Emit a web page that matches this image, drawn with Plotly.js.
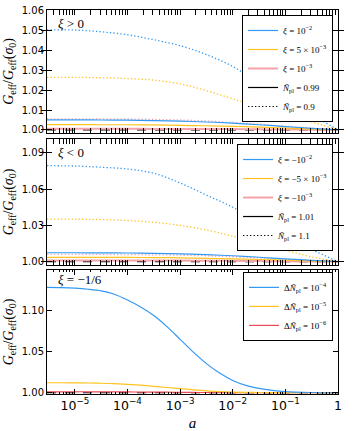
<!DOCTYPE html>
<html>
<head>
<meta charset="utf-8">
<script src="https://cdn.plot.ly/plotly-3.0.1.min.js"></script>
<style>
  body { margin: 0; background: #fff; }
  #plot { width: 353px; height: 431px; }
</style>
</head>
<body>
<div id="plot"></div>
<script>
// scale factor a, half-decade steps from the left edge to a = 1
var aGrid = [2.95e-6, 1e-5, 3.16e-5, 1e-4, 3.16e-4, 1e-3, 3.16e-3, 1e-2, 3.16e-2, 1e-1, 3.16e-1, 1];
// quarter-decade steps for the bottom panel
var aFine = [2.95e-6, 5.62e-6, 1e-5, 1.78e-5, 3.16e-5, 5.62e-5, 1e-4, 1.78e-4, 3.16e-4, 5.62e-4,
             1e-3, 1.78e-3, 3.16e-3, 5.62e-3, 1e-2, 1.78e-2, 3.16e-2, 5.62e-2, 1e-1, 3.16e-1, 1];
var refX = [2.95e-6, 1];
var refY = [1, 1];

// xi > 0 : solid N_pl = 0.99, dotted N_pl = 0.9
var posBlue099   = [1.0051, 1.0051, 1.0050, 1.0049, 1.0047, 1.0044, 1.0040, 1.0034, 1.0026, 1.0017, 1.0008, 1.0000];
var posYellow099 = [1.0027, 1.0027, 1.0026, 1.0026, 1.0025, 1.0023, 1.0021, 1.0018, 1.0014, 1.0009, 1.0004, 1.0000];
var posRed099    = [1.0006, 1.0006, 1.0006, 1.0006, 1.0005, 1.0005, 1.0004, 1.0004, 1.0003, 1.0002, 1.0001, 1.0000];
var posBlue09    = [1.0505, 1.0504, 1.0495, 1.0480, 1.0455, 1.0425, 1.0380, 1.0320, 1.0235, 1.0140, 1.0075, 1.0000];
var posYellow09  = [1.0265, 1.0265, 1.0263, 1.0259, 1.0251, 1.0232, 1.0198, 1.0157, 1.0117, 1.0078, 1.0040, 1.0000];
var posRed09     = [1.0056, 1.0056, 1.0055, 1.0055, 1.0053, 1.0050, 1.0045, 1.0038, 1.0029, 1.0019, 1.0009, 1.0000];

// xi < 0 : solid N_pl = 1.01, dotted N_pl = 1.1
var negBlue101   = [1.0074, 1.0074, 1.0073, 1.0072, 1.0069, 1.0065, 1.0058, 1.0049, 1.0037, 1.0024, 1.0011, 1.0000];
var negYellow101 = [1.0036, 1.0036, 1.0036, 1.0035, 1.0034, 1.0032, 1.0028, 1.0024, 1.0018, 1.0012, 1.0005, 1.0000];
var negRed101    = [1.0010, 1.0010, 1.0010, 1.0010, 1.0009, 1.0009, 1.0008, 1.0007, 1.0005, 1.0003, 1.0001, 1.0000];
var negBlue11    = [1.0793, 1.0790, 1.0780, 1.0765, 1.0730, 1.0650, 1.0550, 1.0450, 1.0320, 1.0200, 1.0100, 1.0000];
var negYellow11  = [1.0352, 1.0351, 1.0348, 1.0340, 1.0325, 1.0300, 1.0262, 1.0210, 1.0150, 1.0095, 1.0040, 1.0000];
var negRed11     = [1.0061, 1.0061, 1.0060, 1.0059, 1.0057, 1.0054, 1.0049, 1.0041, 1.0031, 1.0020, 1.0010, 1.0000];

// xi = -1/6, different Delta N_pl
var confBlue   = [1.1283, 1.1280, 1.1273, 1.1260, 1.1240, 1.1200, 1.1130, 1.1045, 1.0940, 1.0805, 1.0650,
                  1.0495, 1.0355, 1.0240, 1.0150, 1.0090, 1.0053, 1.0028, 1.0013, 1.0003, 1.0000];
var confYellow = [1.0122, 1.0122, 1.0121, 1.0119, 1.0116, 1.0111, 1.0103, 1.0092, 1.0079, 1.0064, 1.0050,
                  1.0036, 1.0024, 1.0015, 1.0009, 1.0005, 1.0003, 1.0001, 1.0001, 1.0000, 1.0000];
var confRed    = [1.0012, 1.0012, 1.0012, 1.0012, 1.0011, 1.0011, 1.0010, 1.0009, 1.0008, 1.0007, 1.0005,
                  1.0004, 1.0003, 1.0002, 1.0001, 1.0001, 1.0000, 1.0000, 1.0000, 1.0000, 1.0000];

var posLabels  = ['<i>ξ</i> = 10<sup>−2</sup>', '<i>ξ</i> = 5 × 10<sup>−3</sup>', '<i>ξ</i> = 10<sup>−3</sup>'];
var negLabels  = ['<i>ξ</i> = −10<sup>−2</sup>', '<i>ξ</i> = −5 × 10<sup>−3</sup>', '<i>ξ</i> = −10<sup>−3</sup>'];
var posNLabels = ['<i>Ñ</i><sub>pl</sub> = 0.99', '<i>Ñ</i><sub>pl</sub> = 0.9'];
var negNLabels = ['<i>Ñ</i><sub>pl</sub> = 1.01', '<i>Ñ</i><sub>pl</sub> = 1.1'];
var confLabels = ['Δ<i>Ñ</i><sub>pl</sub> = 10<sup>−4</sup>', 'Δ<i>Ñ</i><sub>pl</sub> = 10<sup>−5</sup>', 'Δ<i>Ñ</i><sub>pl</sub> = 10<sup>−6</sup>'];

var blue = '#3399f3';
var yellow = '#ffc21f';
var pink = '#f5a3ab';
var red = '#e84a57';
var dotted = '1.3px,2.2px';

function line(x, y, yaxis, color, dash, width, name, legend) {
    return {
        x: x, y: y, xaxis: 'x', yaxis: yaxis,
        type: 'scatter', mode: 'lines',
        line: { color: color, dash: dash, width: width, shape: 'spline' },
        name: name || '', showlegend: !!name, legend: legend,
        hoverinfo: 'skip'
    };
}

var data = [
    // panel 1
    line(aGrid, posBlue09, 'y', blue, dotted, 1.3),
    line(aGrid, posYellow09, 'y', yellow, dotted, 1.3),
    line(aGrid, posRed09, 'y', pink, dotted, 1.3),
    line(refX, refY, 'y', 'black', 'dash', 1.2),
    line(aGrid, posRed099, 'y', pink, 'solid', 2, posLabels[2], 'legend'),
    line(aGrid, posYellow099, 'y', yellow, 'solid', 1.2, posLabels[1], 'legend'),
    line(aGrid, posBlue099, 'y', blue, 'solid', 1.2, posLabels[0], 'legend'),
    line([null], [null], 'y', 'black', 'solid', 1.2, posNLabels[0], 'legend'),
    line([null], [null], 'y', 'black', dotted, 1.2, posNLabels[1], 'legend'),
    // panel 2
    line(aGrid, negBlue11, 'y2', blue, dotted, 1.3),
    line(aGrid, negYellow11, 'y2', yellow, dotted, 1.3),
    line(aGrid, negRed11, 'y2', pink, dotted, 1.3),
    line(refX, refY, 'y2', 'black', 'dash', 1.2),
    line(aGrid, negRed101, 'y2', pink, 'solid', 2, negLabels[2], 'legend2'),
    line(aGrid, negYellow101, 'y2', yellow, 'solid', 1.2, negLabels[1], 'legend2'),
    line(aGrid, negBlue101, 'y2', blue, 'solid', 1.2, negLabels[0], 'legend2'),
    line([null], [null], 'y2', 'black', 'solid', 1.2, negNLabels[0], 'legend2'),
    line([null], [null], 'y2', 'black', dotted, 1.2, negNLabels[1], 'legend2'),
    // panel 3
    line(refX, refY, 'y3', 'black', 'dash', 1.2),
    line(aFine, confRed, 'y3', red, 'solid', 1.2, confLabels[2], 'legend3'),
    line(aFine, confYellow, 'y3', yellow, 'solid', 1.2, confLabels[1], 'legend3'),
    line(aFine, confBlue, 'y3', blue, 'solid', 1.2, confLabels[0], 'legend3')
];
// legend order: blue, yellow, red, then N_pl entries
var ranks = {};
ranks[posLabels[0]] = 1; ranks[posLabels[1]] = 2; ranks[posLabels[2]] = 3;
ranks[negLabels[0]] = 1; ranks[negLabels[1]] = 2; ranks[negLabels[2]] = 3;
ranks[confLabels[0]] = 1; ranks[confLabels[1]] = 2; ranks[confLabels[2]] = 3;
ranks[posNLabels[0]] = 4; ranks[posNLabels[1]] = 5;
ranks[negNLabels[0]] = 4; ranks[negNLabels[1]] = 5;
data.forEach(function (t) { if (t.showlegend) t.legendrank = ranks[t.name]; });

var tickFont = { family: 'DejaVu Sans, sans-serif', size: 10, color: 'black' };
var serif = 'Liberation Serif, DejaVu Serif, serif';
var yTitle = { text: '<i>G</i><sub>eff</sub>/<i>G</i><sub>eff</sub>(<i>σ</i><sub>0</sub>)', font: { family: serif, size: 14, color: 'black' }, standoff: 4 };

function yAxis(domain, range, dtick) {
    return {
        domain: domain, range: range, dtick: dtick, tick0: 1, tickformat: '.2f',
        showline: true, linecolor: 'black', linewidth: 1, mirror: 'allticks',
        ticks: 'inside', ticklen: 5, tickcolor: 'black',
        showgrid: false, zeroline: false, tickfont: tickFont,
        title: yTitle, fixedrange: true
    };
}

function legendBox(y) {
    return {
        x: 0.983, xanchor: 'right', y: y, yanchor: 'top',
        bgcolor: 'white', bordercolor: 'black', borderwidth: 1,
        font: { family: serif, size: 9, color: 'black' },
        itemwidth: 30, tracegroupgap: 0, traceorder: 'normal'
    };
}

var xAxisBase = {
    type: 'log', range: [-5.53, 0], dtick: 1, exponentformat: 'power',
    showline: true, linecolor: 'black', linewidth: 1, mirror: 'allticks',
    ticks: 'inside', ticklen: 5, tickcolor: 'black',
    minor: { ticks: 'inside', ticklen: 2.5, tickcolor: 'black', showgrid: false },
    showgrid: false, zeroline: false, tickfont: tickFont, fixedrange: true
};

var layout = {
    width: 353, height: 431,
    margin: { l: 47, r: 15, t: 10, b: 37 },
    paper_bgcolor: 'white', plot_bgcolor: 'white',
    xaxis: Object.assign({}, xAxisBase, { anchor: 'y3', title: { text: '<i>a</i>', font: { family: serif, size: 15, color: 'black' }, standoff: 6 } }),
    xaxis2: Object.assign({}, xAxisBase, { anchor: 'y', overlaying: 'x', showticklabels: false }),
    xaxis3: Object.assign({}, xAxisBase, { anchor: 'y2', overlaying: 'x', showticklabels: false }),
    yaxis: yAxis([0.680, 1], [0.9985, 1.0605], 0.01),
    yaxis2: yAxis([0.336, 0.664], [0.9973, 1.1013], 0.03),
    yaxis3: yAxis([0, 0.323], [0.9985, 1.1495], 0.05),
    legend: legendBox(0.987),
    legend2: legendBox(0.651),
    legend3: legendBox(0.318),
    annotations: [
        { xref: 'x domain', yref: 'y domain', x: 0.03, y: 0.97, xanchor: 'left', yanchor: 'top', showarrow: false,
          text: '<i>ξ</i> > 0', font: { family: serif, size: 13, color: 'black' } },
        { xref: 'x domain', yref: 'y2 domain', x: 0.03, y: 0.97, xanchor: 'left', yanchor: 'top', showarrow: false,
          text: '<i>ξ</i> < 0', font: { family: serif, size: 13, color: 'black' } },
        { xref: 'x domain', yref: 'y3 domain', x: 0.03, y: 1.0, xanchor: 'left', yanchor: 'top', showarrow: false,
          text: '<i>ξ</i> = −1/6', font: { family: serif, size: 13, color: 'black' } }
    ],
    showlegend: true
};

// dummy traces so the extra x axes (frames with ticks on panels 1 and 2) are drawn
data.push({ x: [null], y: [null], xaxis: 'x2', yaxis: 'y', showlegend: false, hoverinfo: 'skip', type: 'scatter' });
data.push({ x: [null], y: [null], xaxis: 'x3', yaxis: 'y2', showlegend: false, hoverinfo: 'skip', type: 'scatter' });

Plotly.newPlot('plot', data, layout, { displayModeBar: false, staticPlot: true });
</script>
</body>
</html>
